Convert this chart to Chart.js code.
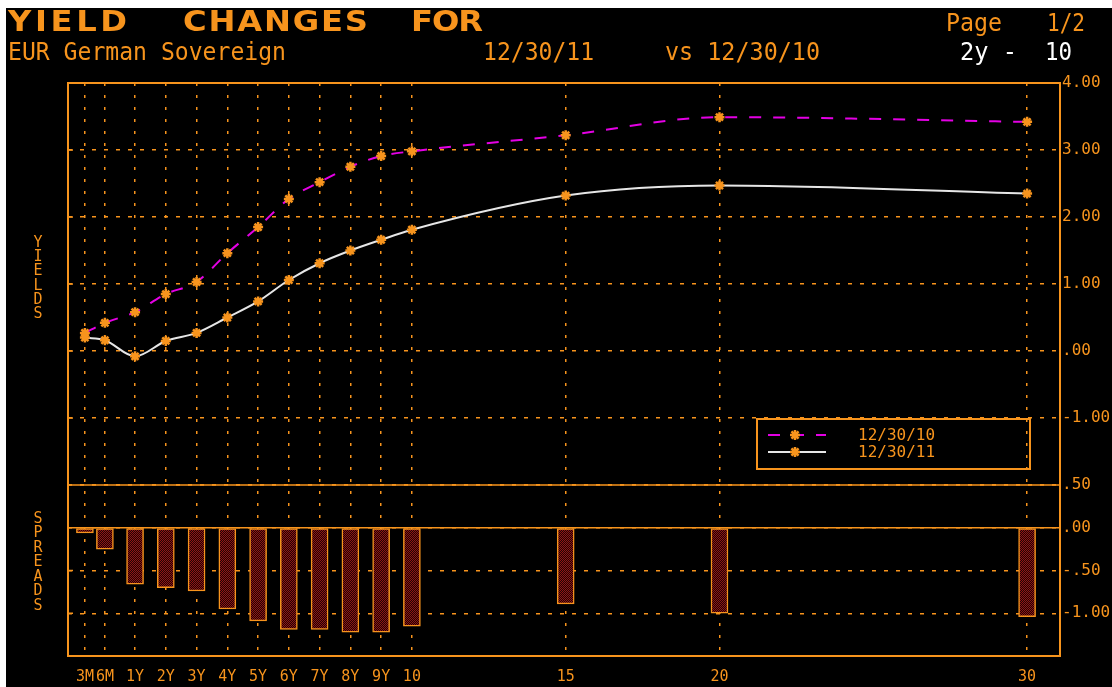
<!DOCTYPE html>
<html>
<head>
<meta charset="utf-8">
<script src="https://cdn.jsdelivr.net/npm/chart.js@4.4.1/dist/chart.umd.min.js"></script>
<style>
  html, body { margin: 0; padding: 0; background: #fff; }
  #wrap { position: absolute; left: 0; top: 0; width: 1112px; height: 687px; overflow: hidden; }
  #bg { position: absolute; left: 6px; top: 8px; right: 0; bottom: 0; background: #000; }
  canvas { position: absolute; left: 0; top: 0; }
</style>
</head>
<body>
<div id="wrap"><div id="bg"></div><canvas id="chart" width="1112" height="687"></canvas></div>
<script>
// tenors along the bottom axis
const tenorLabels = ['3M', '6M', '1Y', '2Y', '3Y', '4Y', '5Y', '6Y', '7Y', '8Y', '9Y', '10', '15', '20', '30'];
// axis slot of each tenor (years, short end squeezed like the original screen)
const tenorSlots = [-0.63, 0.02, 1, 2, 3, 4, 5, 6, 7, 8, 9, 10, 15, 20, 30];

const yields2010 = [0.27, 0.42, 0.58, 0.85, 1.03, 1.46, 1.85, 2.27, 2.52, 2.75, 2.91, 2.98, 3.22, 3.49, 3.42];
const yields2011 = [0.20, 0.16, -0.08, 0.15, 0.27, 0.50, 0.74, 1.06, 1.31, 1.50, 1.66, 1.81, 2.32, 2.47, 2.35];
const spreads = [-0.06, -0.25, -0.66, -0.70, -0.74, -0.95, -1.09, -1.19, -1.19, -1.22, -1.22, -1.15, -0.89, -1.00, -1.04];

const yieldTicks = [-2, -1, 0, 1, 2, 3, 4];
const spreadTicks = [-1.5, -1, -0.5, 0, 0.5];

const ORANGE = '#f7941d';
const MAGENTA = '#e400e4';
const WHITE = '#e6e6e6';
const MONO = '"DejaVu Sans Mono", monospace';

function fmt(v) {
  let s = Math.abs(v).toFixed(2);
  if (Math.abs(v) < 1) s = s.slice(1);
  return (v < 0 ? '-' : '') + s;
}

const canvas = document.getElementById('chart');
const ctx = canvas.getContext('2d');

// dark red cross-hatch for the spread bars
const pc = document.createElement('canvas');
pc.width = 2; pc.height = 2;
const pctx = pc.getContext('2d');
pctx.fillStyle = '#220303';
pctx.fillRect(0, 0, 2, 2);
pctx.fillStyle = '#8e1616';
pctx.fillRect(0, 0, 1, 1);
pctx.fillRect(1, 1, 1, 1);
const hatch = ctx.createPattern(pc, 'repeat');

function fitText(c, text, x, y, w, font, color) {
  c.save();
  c.font = font;
  c.fillStyle = color;
  c.textAlign = 'left';
  c.textBaseline = 'alphabetic';
  const nat = c.measureText(text).width;
  c.translate(x, y);
  c.scale(w / nat, 1);
  c.fillText(text, 0, 0);
  c.restore();
}

// wide, letter-spaced title words
function spacedText(c, text, x0, x1, y, k) {
  const chars = [...text];
  const ws = chars.map(ch => c.measureText(ch).width * k);
  const total = ws.reduce((a, b) => a + b, 0);
  const gap = (x1 - x0 - total) / (chars.length - 1);
  let x = x0;
  chars.forEach((ch, i) => {
    c.save();
    c.translate(x, y);
    c.scale(k, 1);
    c.fillText(ch, 0, 0);
    c.restore();
    x += ws[i] + gap;
  });
}

function drawStar(c, x, y) {
  c.save();
  c.strokeStyle = ORANGE;
  c.lineWidth = 2.5;
  c.beginPath();
  const r = 5, d = r * Math.SQRT1_2;
  c.moveTo(x - r, y); c.lineTo(x + r, y);
  c.moveTo(x, y - r); c.lineTo(x, y + r);
  c.moveTo(x - d, y - d); c.lineTo(x + d, y + d);
  c.moveTo(x - d, y + d); c.lineTo(x + d, y - d);
  c.stroke();
  c.restore();
}

const framePlugin = {
  id: 'frame',
  beforeDatasetsDraw(chart) {
    const { ctx: c, chartArea: a, scales } = chart;
    c.save();
    c.strokeStyle = ORANGE;
    c.lineWidth = 2;
    c.strokeRect(a.left, a.top, a.right - a.left, a.bottom - a.top);
    const sep = scales.y.bottom;
    const zero = scales.y2.getPixelForValue(0);
    c.beginPath();
    c.moveTo(a.left, sep); c.lineTo(a.right, sep);
    c.moveTo(a.left, zero); c.lineTo(a.right, zero);
    // little ticks on the left edge
    c.lineWidth = 1.5;
    [-1, 0, 1, 2, 3].forEach(v => {
      const py = scales.y.getPixelForValue(v);
      c.moveTo(a.left, py); c.lineTo(a.left + 5, py);
    });
    [-1, -0.5].forEach(v => {
      const py = scales.y2.getPixelForValue(v);
      c.moveTo(a.left, py); c.lineTo(a.left + 5, py);
    });
    c.stroke();
    c.restore();
  },
  afterDraw(chart) {
    const c = chart.ctx;
    const ds = chart.data.datasets;

    // legend box
    c.save();
    c.strokeStyle = ORANGE;
    c.lineWidth = 2;
    c.strokeRect(757, 419, 273, 50);
    c.strokeStyle = ds[0].borderColor;
    c.setLineDash([12, 12]);
    c.beginPath(); c.moveTo(768, 435); c.lineTo(826, 435); c.stroke();
    c.setLineDash([]);
    c.strokeStyle = ds[1].borderColor;
    c.beginPath(); c.moveTo(768, 452); c.lineTo(826, 452); c.stroke();
    c.restore();
    drawStar(c, 795, 435);
    drawStar(c, 795, 452);
    fitText(c, ds[0].label, 858, 440, 77, '15px ' + MONO, ORANGE);
    fitText(c, ds[1].label, 858, 457, 77, '15px ' + MONO, ORANGE);

    // header
    c.save();
    c.fillStyle = ORANGE;
    c.font = 'bold 28px "DejaVu Sans", sans-serif';
    c.textBaseline = 'alphabetic';
    spacedText(c, 'YIELD', 8, 127, 31, 1.15);
    spacedText(c, 'CHANGES', 183, 368, 31, 1.15);
    spacedText(c, 'FOR', 411, 483, 31, 1.15);
    c.restore();
    const hf = '24px ' + MONO;
    fitText(c, 'EUR German Sovereign', 8, 60, 278, hf, ORANGE);
    fitText(c, '12/30/11', 483, 60, 111, hf, ORANGE);
    fitText(c, 'vs 12/30/10', 665, 60, 155, hf, ORANGE);
    fitText(c, 'Page', 946, 31, 56, hf, ORANGE);
    fitText(c, '1/2', 1047, 31, 38, hf, ORANGE);
    fitText(c, '2y -', 960, 60, 57, hf, '#ffffff');
    fitText(c, '10', 1045, 60, 27, hf, '#ffffff');

    // stacked side titles
    c.save();
    c.fillStyle = ORANGE;
    c.font = '15px ' + MONO;
    c.textAlign = 'center';
    c.textBaseline = 'middle';
    [...'YIELDS'].forEach((ch, i) => c.fillText(ch, 38, 243 + i * 14.3));
    [...'SPREADS'].forEach((ch, i) => c.fillText(ch, 38, 519 + i * 14.5));
    c.restore();
  }
};

const gridOpts = { color: ORANGE, lineWidth: 1.5, drawTicks: false, offset: false };

new Chart(canvas, {
  type: 'line',
  data: {
    datasets: [
      {
        label: '12/30/10',
        data: tenorSlots.map((x, i) => ({ x, y: yields2010[i] })),
        yAxisID: 'y',
        borderColor: MAGENTA,
        borderWidth: 2,
        borderDash: [12, 12],
        pointStyle: 'star',
        pointRadius: 5,
        pointBorderColor: ORANGE,
        pointBackgroundColor: ORANGE,
        pointBorderWidth: 2.5,
        cubicInterpolationMode: 'monotone'
      },
      {
        label: '12/30/11',
        data: tenorSlots.map((x, i) => ({ x, y: yields2011[i] })),
        yAxisID: 'y',
        borderColor: WHITE,
        borderWidth: 2,
        pointStyle: 'star',
        pointRadius: 5,
        pointBorderColor: ORANGE,
        pointBackgroundColor: ORANGE,
        pointBorderWidth: 2.5,
        cubicInterpolationMode: 'monotone'
      },
      {
        type: 'bar',
        label: 'Spread',
        data: tenorSlots.map((x, i) => ({ x, y: spreads[i] })),
        yAxisID: 'y2',
        backgroundColor: hatch,
        borderColor: ORANGE,
        borderWidth: 1.5,
        borderSkipped: false,
        barThickness: 17
      }
    ]
  },
  options: {
    responsive: false,
    animation: false,
    layout: { padding: { left: 68, top: 83, right: 0, bottom: 0 } },
    plugins: { legend: { display: false }, tooltip: { enabled: false } },
    scales: {
      x: {
        type: 'linear',
        offset: false,
        min: -1.18,
        max: 31.07,
        afterBuildTicks: s => { s.ticks = tenorSlots.map(v => ({ value: v })); },
        afterFit: s => { s.height = 31; },
        grid: gridOpts,
        border: { display: false, dash: [3, 9] },
        ticks: {
          color: ORANGE,
          font: { family: MONO, size: 15 },
          padding: 12,
          autoSkip: false,
          maxRotation: 0,
          callback: (v, i) => tenorLabels[i]
        }
      },
      y: {
        type: 'linear',
        position: 'right',
        stack: 'panels',
        stackWeight: 402,
        min: -2,
        max: 4,
        afterBuildTicks: s => { s.ticks = yieldTicks.map(v => ({ value: v })); },
        afterFit: s => { s.width = 52; },
        grid: gridOpts,
        border: { display: false, dash: [4, 8] },
        ticks: {
          color: ORANGE,
          font: { family: MONO, size: 16 },
          padding: 2,
          callback: v => (v === -2 ? '' : fmt(v))
        }
      },
      y2: {
        type: 'linear',
        position: 'right',
        stack: 'panels',
        stackWeight: 171,
        min: -1.5,
        max: 0.5,
        afterBuildTicks: s => { s.ticks = spreadTicks.map(v => ({ value: v })); },
        afterFit: s => { s.width = 52; },
        grid: gridOpts,
        border: { display: false, dash: [4, 8] },
        ticks: {
          color: ORANGE,
          font: { family: MONO, size: 16 },
          padding: 2,
          callback: v => (v === -1.5 ? '' : fmt(v))
        }
      }
    }
  },
  plugins: [framePlugin]
});
</script>
</body>
</html>
